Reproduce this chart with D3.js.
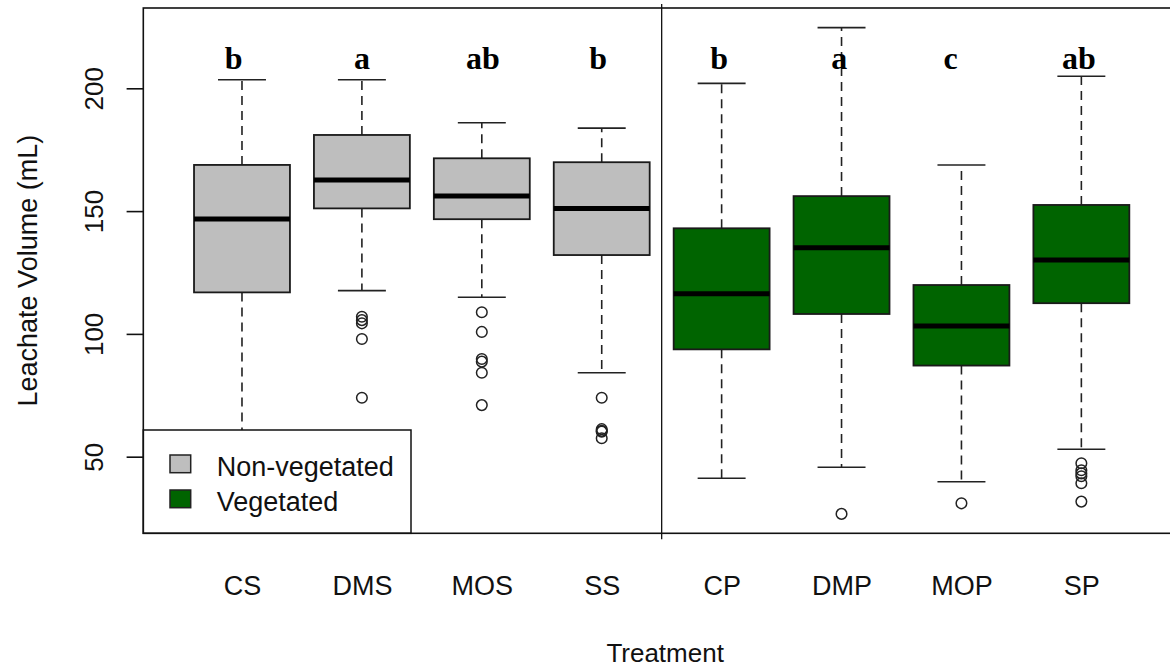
<!DOCTYPE html>
<html>
<head>
<meta charset="utf-8">
<script src="https://cdn.jsdelivr.net/npm/d3@7"></script>
<style>
  body { margin: 0; background: #fff; }
  svg text { font-family: "Liberation Sans", Arial, sans-serif; fill: #111; }
  .letter { font-family: "Liberation Serif", "Times New Roman", serif; font-weight: bold; fill: #000; }
</style>
</head>
<body>
<svg id="chart" width="1170" height="668"></svg>
<script>
// data
const treatments = ["CS", "DMS", "MOS", "SS", "CP", "DMP", "MOP", "SP"];
const groups = ["Non-vegetated", "Non-vegetated", "Non-vegetated", "Non-vegetated",
                "Vegetated", "Vegetated", "Vegetated", "Vegetated"];
const lowerWhisker = [38, 117.6, 114.9, 84.2, 41.2, 45.7, 39.8, 53];
const q1 = [116.9, 151.1, 146.7, 132.1, 93.7, 108.1, 87.1, 112.5];
const medians = [146.8, 162.7, 156.1, 151.1, 116.3, 135.1, 103.2, 130.1];
const q3 = [168.8, 181, 171.5, 169.9, 143, 156.1, 119.9, 152.5];
const upperWhisker = [203.5, 203.5, 186, 183.8, 202, 224.7, 168.8, 204.9];
const outliers = [
    [],
    [107, 105.6, 104.3, 97.9, 74],
    [108.8, 100.8, 89.8, 88.7, 84.2, 71],
    [74, 61.2, 60.5, 60.2, 57.5],
    [],
    [26.7],
    [31],
    [47.3, 44.5, 43.2, 42, 39.2, 31.7]
];
// letters are placed with text() at their own x in the original
const letters = ["b", "a", "ab", "b", "b", "a", "c", "ab"];
const letterPos = [0.93, 2, 3.01, 3.97, 4.98, 5.98, 6.91, 7.98];
const letterLevel = 208;
const yTicks = [50, 100, 150, 200];
const legendLabels = ["Non-vegetated", "Vegetated"];
const colors = {"Non-vegetated": "#bebebe", "Vegetated": "#006400"};

const svg = d3.select("#chart");
const plotLeft = 143.3, plotTop = 8, plotRight = 1187, plotBottom = 533.3;

const x = d3.scaleLinear().domain([0.177, 8.881]).range([plotLeft, plotRight]);
const y = d3.scaleLinear().domain([18.8, 232.7]).range([plotBottom, plotTop]);
const step = x(2) - x(1);

const boxes = treatments.map((t, i) => ({
    name: t, pos: i + 1, group: groups[i],
    lo: lowerWhisker[i], q1: q1[i], med: medians[i], q3: q3[i], hi: upperWhisker[i],
    out: outliers[i], letter: letters[i], letterPos: letterPos[i]
}));

const g = svg.append("g");

// whiskers
const wh = g.selectAll(".whisk").data(boxes).enter().append("g");
wh.append("line")
    .attr("x1", d => x(d.pos)).attr("x2", d => x(d.pos))
    .attr("y1", d => y(d.q3)).attr("y2", d => y(d.hi))
    .attr("stroke", "#222").attr("stroke-width", 1.6).attr("stroke-dasharray", "9,6");
wh.append("line")
    .attr("x1", d => x(d.pos)).attr("x2", d => x(d.pos))
    .attr("y1", d => y(d.q1)).attr("y2", d => y(d.lo))
    .attr("stroke", "#222").attr("stroke-width", 1.6).attr("stroke-dasharray", "9,6");
wh.append("line")
    .attr("x1", d => x(d.pos - 0.2)).attr("x2", d => x(d.pos + 0.2))
    .attr("y1", d => y(d.hi)).attr("y2", d => y(d.hi))
    .attr("stroke", "#222").attr("stroke-width", 1.6);
wh.append("line")
    .attr("x1", d => x(d.pos - 0.2)).attr("x2", d => x(d.pos + 0.2))
    .attr("y1", d => y(d.lo)).attr("y2", d => y(d.lo))
    .attr("stroke", "#222").attr("stroke-width", 1.6);

// boxes
g.selectAll(".box").data(boxes).enter().append("rect")
    .attr("x", d => x(d.pos - 0.4))
    .attr("width", step * 0.8)
    .attr("y", d => y(d.q3))
    .attr("height", d => y(d.q1) - y(d.q3))
    .attr("fill", d => colors[d.group])
    .attr("stroke", "#1a1a1a").attr("stroke-width", 1.8);

// medians
g.selectAll(".med").data(boxes).enter().append("line")
    .attr("x1", d => x(d.pos - 0.4)).attr("x2", d => x(d.pos + 0.4))
    .attr("y1", d => y(d.med)).attr("y2", d => y(d.med))
    .attr("stroke", "#000").attr("stroke-width", 5);

// outliers
boxes.forEach(b => {
    g.selectAll(null).data(b.out).enter().append("circle")
        .attr("cx", x(b.pos)).attr("cy", v => y(v)).attr("r", 5.3)
        .attr("fill", "none").attr("stroke", "#222").attr("stroke-width", 1.5);
});

// significance letters
g.selectAll(".letter").data(boxes).enter().append("text")
    .attr("class", "letter")
    .attr("x", d => x(d.letterPos)).attr("y", y(letterLevel))
    .attr("text-anchor", "middle")
    .style("font-size", "32px")
    .text(d => d.letter);

// divider between groups
svg.append("line")
    .attr("x1", x(4.5)).attr("x2", x(4.5))
    .attr("y1", plotTop - 4).attr("y2", plotBottom + 6)
    .attr("stroke", "#111").attr("stroke-width", 1.3);

// legend
const leg = svg.append("g");
leg.append("rect")
    .attr("x", plotLeft).attr("y", 430)
    .attr("width", 411 - plotLeft).attr("height", plotBottom - 430)
    .attr("fill", "#fff").attr("stroke", "#111").attr("stroke-width", 1.5);
legendLabels.forEach((lab, i) => {
    leg.append("rect")
        .attr("x", 170).attr("y", 455 + i * 35)
        .attr("width", 20.7).attr("height", 17.7)
        .attr("fill", colors[lab]).attr("stroke", "#222").attr("stroke-width", 1.5);
    leg.append("text")
        .attr("x", 216.7).attr("y", 476 + i * 34.5)
        .style("font-size", "27px")
        .text(lab);
});

// frame
svg.append("rect")
    .attr("x", plotLeft).attr("y", plotTop)
    .attr("width", plotRight - plotLeft).attr("height", plotBottom - plotTop)
    .attr("fill", "none").attr("stroke", "#111").attr("stroke-width", 1.6);

// y axis
const yAxis = svg.append("g")
    .attr("transform", `translate(${plotLeft},0)`)
    .call(d3.axisLeft(y).tickValues(yTicks).tickSize(16.7).tickSizeOuter(0));
yAxis.select(".domain").remove();
yAxis.selectAll("line").attr("stroke", "#111").attr("stroke-width", 1.6);
yAxis.selectAll("text")
    .attr("transform", "rotate(-90)")
    .attr("x", 0).attr("y", -40).attr("dy", 0)
    .attr("text-anchor", "middle")
    .style("font-size", "26px")
    .style("font-family", "Liberation Sans, Arial, sans-serif")
    .attr("fill", "#111");

// x axis labels
const xAxis = svg.append("g")
    .attr("transform", `translate(0,${plotBottom})`)
    .call(d3.axisBottom(x).tickValues(boxes.map(d => d.pos))
        .tickFormat((d, i) => treatments[i]).tickSize(0));
xAxis.select(".domain").remove();
xAxis.selectAll("text")
    .attr("y", 61.7).attr("dy", 0)
    .style("font-size", "27px")
    .style("font-family", "Liberation Sans, Arial, sans-serif")
    .attr("fill", "#111");

// axis titles
svg.append("text")
    .attr("x", (plotLeft + plotRight) / 2).attr("y", 662)
    .attr("text-anchor", "middle")
    .style("font-size", "26px")
    .text("Treatment");

svg.append("text")
    .attr("transform", `translate(37,${(plotTop + plotBottom) / 2}) rotate(-90)`)
    .attr("text-anchor", "middle")
    .style("font-size", "27px")
    .text("Leachate Volume (mL)");
</script>
</body>
</html>
